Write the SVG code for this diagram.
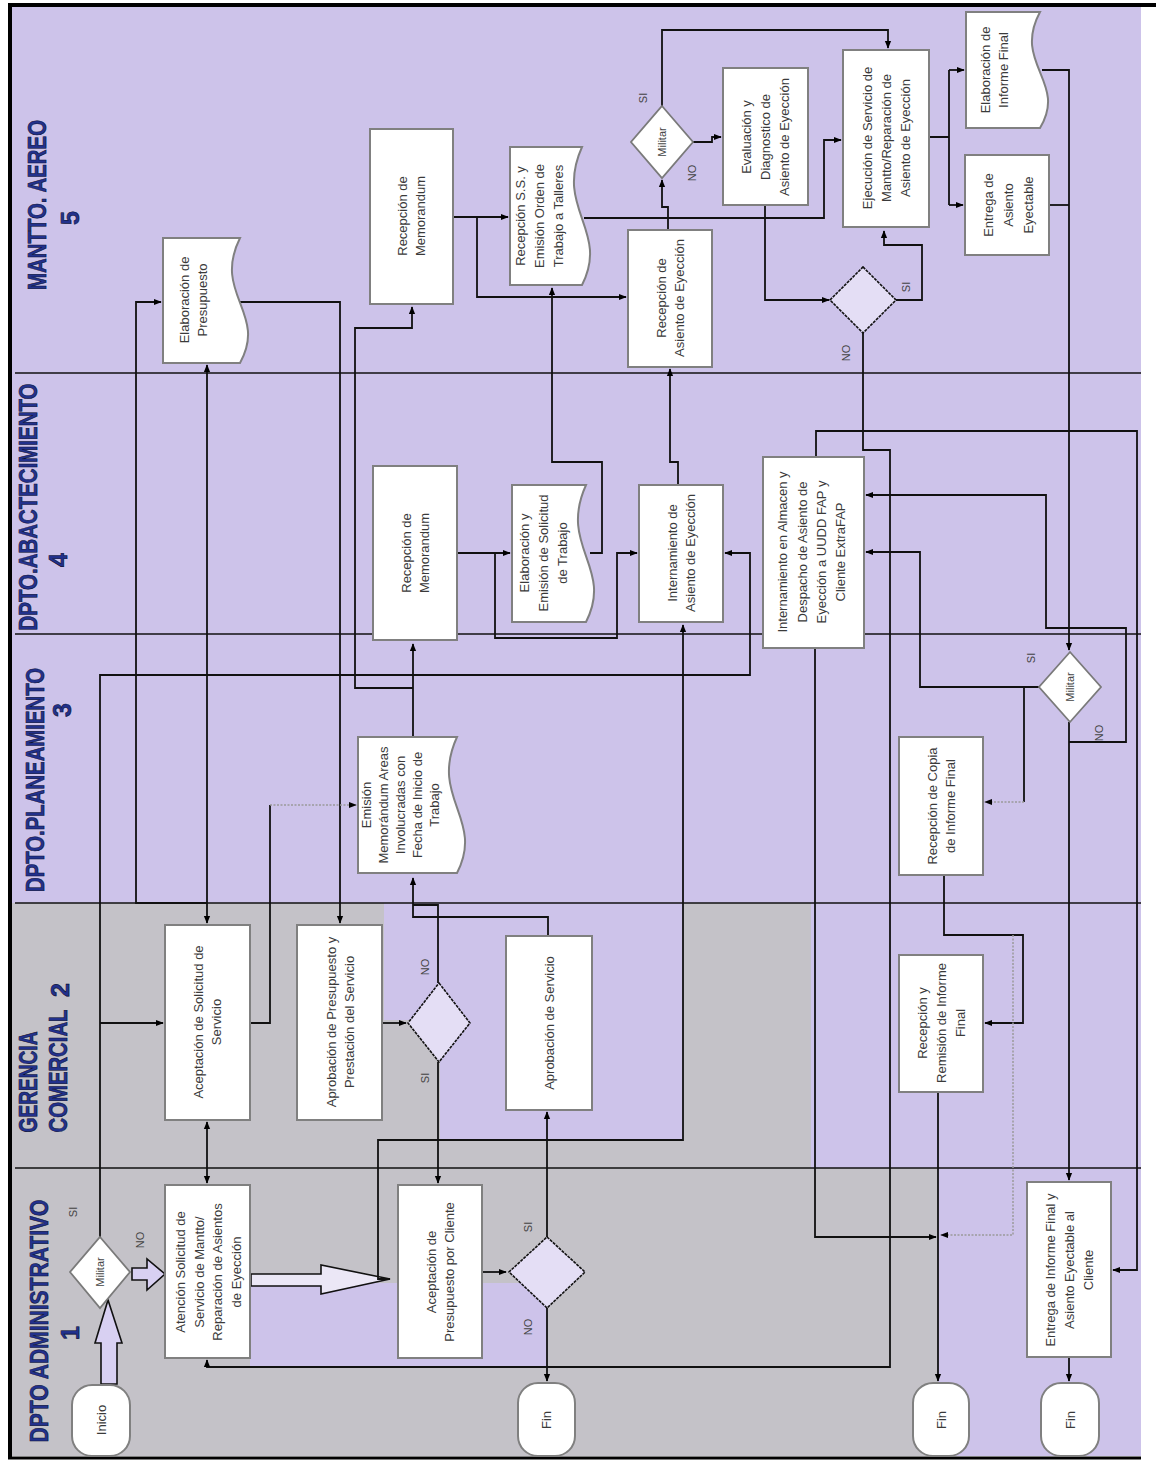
<svg xmlns="http://www.w3.org/2000/svg" width="1156" height="1461" viewBox="0 0 1156 1461">
<defs>
<style>
.bg{fill:#cdc3ea}
.gr{fill:#c4c2c8}
.box{fill:#ffffff;stroke:#808080;stroke-width:2}
.dia{fill:#ffffff;stroke:#7a7a7a;stroke-width:1.8}
.dia2{fill:#e4def5;stroke:#111;stroke-width:1.6;stroke-dasharray:3 1}
.t{font-family:"Liberation Sans",Arial,sans-serif;font-size:13px;fill:#3a3a3a;text-anchor:middle;dominant-baseline:central}
.s{font-family:"Liberation Sans",Arial,sans-serif;font-size:11px;fill:#444;text-anchor:middle;dominant-baseline:central}
.lb{font-family:"Liberation Sans Narrow","Liberation Sans",Arial,sans-serif;font-weight:bold;font-size:25px;fill:#22318c;stroke:#0b0f33;stroke-width:0.6;text-anchor:middle;dominant-baseline:central}
.c{fill:none;stroke:#111;stroke-width:1.8}
.g{fill:none;stroke:#9a9a9a;stroke-width:1.5;stroke-dasharray:2 1.5}
.ln{stroke:#111;stroke-width:1.5}
.blk{fill:#d8d0f2;stroke:#111;stroke-width:1.6}
</style>
<marker id="ah" viewBox="0 0 10 10" refX="9" refY="5" markerWidth="8" markerHeight="8" markerUnits="userSpaceOnUse" orient="auto-start-reverse"><path d="M0,1 L10,5 L0,9 Z" fill="#000"/></marker>
</defs>

<g id="background">
<rect class="bg" x="12" y="7" width="1129" height="1449"/>
<rect class="gr" x="12" y="903" width="799" height="265"/>
<polygon class="bg" points="384,903 683,903 683,1141 440,1141 440,1020 384,1020"/>
<rect class="gr" x="12" y="1168" width="926" height="288"/>
<rect class="bg" x="250" y="1283" width="297" height="84"/>
<line x1="8" y1="5" x2="1156" y2="5" stroke="#000" stroke-width="4"/>
<line x1="10" y1="5" x2="10" y2="1459" stroke="#000" stroke-width="4"/>
<line x1="8" y1="1458" x2="1141" y2="1458" stroke="#000" stroke-width="3"/>
</g>

<g id="lanes">
<line class="ln" x1="15" y1="373" x2="1141" y2="373"/>
<line class="ln" x1="15" y1="634" x2="1141" y2="634"/>
<line class="ln" x1="15" y1="903" x2="1141" y2="903"/>
<line class="ln" x1="15" y1="1168" x2="1141" y2="1168"/>
<text class="lb" transform="translate(37,205) rotate(-90)" textLength="170" lengthAdjust="spacingAndGlyphs">MANTTO. AEREO</text>
<text class="lb" transform="translate(70,218) rotate(-90)">5</text>
<text class="lb" transform="translate(28,507) rotate(-90)" textLength="247" lengthAdjust="spacingAndGlyphs">DPTO.ABACTECIMIENTO</text>
<text class="lb" transform="translate(58,560) rotate(-90)">4</text>
<text class="lb" transform="translate(35,780) rotate(-90)" textLength="224" lengthAdjust="spacingAndGlyphs">DPTO.PLANEAMIENTO</text>
<text class="lb" transform="translate(62,710) rotate(-90)">3</text>
<text class="lb" transform="translate(28,1082) rotate(-90)" textLength="101" lengthAdjust="spacingAndGlyphs">GERENCIA</text>
<text class="lb" transform="translate(58,1071) rotate(-90)" textLength="123" lengthAdjust="spacingAndGlyphs">COMERCIAL</text>
<text class="lb" transform="translate(60,990) rotate(-90)">2</text>
<text class="lb" transform="translate(39,1321) rotate(-90)" textLength="243" lengthAdjust="spacingAndGlyphs">DPTO ADMINISTRATIVO</text>
<text class="lb" transform="translate(70,1333) rotate(-90)">1</text>
</g>

<g id="connectors">
<polygon class="blk" points="101,1384 101,1343 95,1343 108,1300 122,1343 117,1343 117,1384"/>
<polygon class="blk" points="132,1268 147,1268 147,1259 165,1274 147,1290 147,1280 132,1280"/>
<polygon class="blk" style="fill:#ebe7f6" points="251,1274 321,1274 321,1265 390,1279 321,1294 321,1286 251,1286"/>
<path class="c" d="M100,1237 V675 H750 V553 H725" marker-end="url(#ah)"/>
<path class="c" d="M100,1023 H163" marker-end="url(#ah)"/>
<path class="c" d="M207,365 V923" marker-start="url(#ah)" marker-end="url(#ah)"/>
<path class="c" d="M207,1122 V1183" marker-start="url(#ah)" marker-end="url(#ah)"/>
<path class="c" d="M240,302 H340 V923" marker-end="url(#ah)"/>
<path class="c" d="M207,903 H136 V302 H161" marker-end="url(#ah)"/>
<path class="c" d="M250,1023 H270 V805"/>
<path class="g" d="M270,805 H356" marker-end="url(#ah)"/>
<path class="c" d="M413,737 V644" marker-end="url(#ah)"/>
<path class="c" d="M413,688 H355 V328 H412 V307" marker-end="url(#ah)"/>
<path class="c" d="M548,936 V917 H413 V878" marker-end="url(#ah)"/>
<path class="c" d="M438,983 V905 H413"/>
<path class="c" d="M453,217 H508" marker-end="url(#ah)"/>
<path class="c" d="M477,217 V297 H626" marker-end="url(#ah)"/>
<path class="c" d="M457,553 H510" marker-end="url(#ah)"/>
<path class="c" d="M495,553 V638 H617 V553 H637" marker-end="url(#ah)"/>
<path class="c" d="M590,553 H602 V462 H552 V288" marker-end="url(#ah)"/>
<path class="c" d="M678,485 V462 H670 V369" marker-end="url(#ah)"/>
<path class="c" d="M382,1023 H406" marker-end="url(#ah)"/>
<path class="c" d="M438,1062 V1183" marker-end="url(#ah)"/>
<path class="c" d="M482,1272 H506" marker-end="url(#ah)"/>
<path class="c" d="M547,1237 V1112" marker-end="url(#ah)"/>
<path class="c" d="M547,1308 V1381" marker-end="url(#ah)"/>
<path class="c" d="M863,333 V450 H890 V1367 H207 V1360" marker-end="url(#ah)"/>
<path class="c" d="M390,1279 H378 V1140 H683 V625" marker-end="url(#ah)"/>
<path class="c" d="M584,218 H824 V140 H841" marker-end="url(#ah)"/>
<path class="c" d="M765,205 V300 H829" marker-end="url(#ah)"/>
<path class="c" d="M668,230 V207 H662 V180" marker-end="url(#ah)"/>
<path class="c" d="M693,142 H712 V137 H721" marker-end="url(#ah)"/>
<path class="c" d="M662,107 V30 H888 V48" marker-end="url(#ah)"/>
<path class="c" d="M896,300 H922 V245 H884 V231" marker-end="url(#ah)"/>
<path class="c" d="M929,137 H949 M949,70 V205"/>
<path class="c" d="M949,70 H964" marker-end="url(#ah)"/>
<path class="c" d="M949,205 H963" marker-end="url(#ah)"/>
<path class="c" d="M1042,70 H1069 V650" marker-end="url(#ah)"/>
<path class="c" d="M1049,205 H1069"/>
<path class="c" d="M1039,687 H920 V552 H866" marker-end="url(#ah)"/>
<path class="c" d="M1024,687 V802"/>
<path class="g" d="M1024,802 H985" marker-end="url(#ah)"/>
<path class="c" d="M944,875 V935 H1023 V1023 H985" marker-end="url(#ah)"/>
<path class="c" d="M938,1092 V1381" marker-end="url(#ah)"/>
<path class="c" d="M1069,722 V1180" marker-end="url(#ah)"/>
<path class="c" d="M1069,742 H1126 V628 H1046 V495 H866" marker-end="url(#ah)"/>
<path class="c" d="M816,457 V431 H1137 V1270 H1113" marker-end="url(#ah)"/>
<path class="c" d="M815,648 V1237 H936" marker-end="url(#ah)"/>
<path class="g" d="M1013,935 V1235 H941" marker-end="url(#ah)"/>
<path class="c" d="M1069,1357 V1381" marker-end="url(#ah)"/>
</g>

<g id="n_elab_presup"><path class="box" d="M163,238 H240 C212,294 268,313 240,363 H163 Z"/><text class="t" transform="translate(193,300) rotate(-90)"><tspan x="0" y="-9">Elaboración de</tspan><tspan x="0" y="9">Presupuesto</tspan></text></g>
<g id="n_recep_mem5"><rect class="box" x="370" y="129" width="83" height="175"/><text class="t" transform="translate(411,216) rotate(-90)"><tspan x="0" y="-9">Recepción de</tspan><tspan x="0" y="9">Memorandum</tspan></text></g>
<g id="n_recep_ss"><path class="box" d="M510,147 H582 C554,209 610,230 582,285 H510 Z"/><text class="t" transform="translate(539,216) rotate(-90)"><tspan x="0" y="-19">Recepción S.S. y</tspan><tspan x="0" y="0">Emisión Orden de</tspan><tspan x="0" y="19">Trabajo a Talleres</tspan></text></g>
<g id="n_militar5"><polygon class="dia" points="662,106 693,142 662,178 631,142"/><text class="s" transform="translate(662,142) rotate(-90)">Militar</text><text class="s" transform="translate(643,98) rotate(-90)">SI</text><text class="s" transform="translate(692,173) rotate(-90)">NO</text></g>
<g id="n_eval"><rect class="box" x="723" y="68" width="85" height="137"/><text class="t" transform="translate(765,137) rotate(-90)"><tspan x="0" y="-19">Evaluación y</tspan><tspan x="0" y="0">Diagnostico de</tspan><tspan x="0" y="19">Asiento de Eyección</tspan></text></g>
<g id="n_recep_asiento"><rect class="box" x="628" y="230" width="84" height="137"/><text class="t" transform="translate(670,298) rotate(-90)"><tspan x="0" y="-9">Recepción de</tspan><tspan x="0" y="9">Asiento de Eyección</tspan></text></g>
<g id="n_ejec"><rect class="box" x="843" y="50" width="86" height="177"/><text class="t" transform="translate(886,138) rotate(-90)"><tspan x="0" y="-19">Ejecución de Servicio de</tspan><tspan x="0" y="0">Mantto/Reparación de</tspan><tspan x="0" y="19">Asiento de Eyección</tspan></text></g>
<g id="n_elab_inf"><path class="box" d="M966,12 H1040 C1012,64 1068,82 1040,128 H966 Z"/><text class="t" transform="translate(994,70) rotate(-90)"><tspan x="0" y="-9">Elaboración de</tspan><tspan x="0" y="9">Informe Final</tspan></text></g>
<g id="n_entrega_asiento"><rect class="box" x="965" y="155" width="84" height="100"/><text class="t" transform="translate(1008,205) rotate(-90)"><tspan x="0" y="-20">Entrega de</tspan><tspan x="0" y="0">Asiento</tspan><tspan x="0" y="20">Eyectable</tspan></text></g>
<g id="n_dec5"><polygon class="dia2" points="863,267 896,300 863,333 830,300"/><text class="s" transform="translate(906,287) rotate(-90)">SI</text><text class="s" transform="translate(846,353) rotate(-90)">NO</text></g>
<g id="n_recep_mem4"><rect class="box" x="373" y="466" width="84" height="174"/><text class="t" transform="translate(415,553) rotate(-90)"><tspan x="0" y="-9">Recepción de</tspan><tspan x="0" y="9">Memorandum</tspan></text></g>
<g id="n_elab_sol"><path class="box" d="M512,485 H586 C558,547 614,567 586,622 H512 Z"/><text class="t" transform="translate(543,553) rotate(-90)"><tspan x="0" y="-19">Elaboración y</tspan><tspan x="0" y="0">Emisión de Solicitud</tspan><tspan x="0" y="19">de Trabajo</tspan></text></g>
<g id="n_intern_asiento"><rect class="box" x="639" y="485" width="84" height="137"/><text class="t" transform="translate(681,553) rotate(-90)"><tspan x="0" y="-9">Internamiento de</tspan><tspan x="0" y="9">Asiento de Eyección</tspan></text></g>
<g id="n_almacen"><rect class="box" x="763" y="457" width="101" height="191"/><text class="t" transform="translate(811,552) rotate(-90)"><tspan x="0" y="-29">Internamiento en Almacen y</tspan><tspan x="0" y="-9.5">Despacho de Asiento de</tspan><tspan x="0" y="9.5">Eyección a UUDD FAP y</tspan><tspan x="0" y="29">Cliente ExtraFAP</tspan></text></g>
<g id="n_emision"><path class="box" d="M358,737 H457 C429,798 485,819 457,873 H358 Z"/><text class="t" transform="translate(400,805) rotate(-90)"><tspan x="0" y="-34">Emisión</tspan><tspan x="0" y="-17">Memorándum Areas</tspan><tspan x="0" y="0">Involucradas con</tspan><tspan x="0" y="17">Fecha de Inicio de</tspan><tspan x="0" y="34">Trabajo</tspan></text></g>
<g id="n_copia"><rect class="box" x="899" y="737" width="84" height="138"/><text class="t" transform="translate(941,806) rotate(-90)"><tspan x="0" y="-9">Recepción de Copia</tspan><tspan x="0" y="9">de Informe Final</tspan></text></g>
<g id="n_militar3"><polygon class="dia" points="1070,652 1101,687 1070,722 1039,687"/><text class="s" transform="translate(1070,687) rotate(-90)">Militar</text><text class="s" transform="translate(1031,658) rotate(-90)">SI</text><text class="s" transform="translate(1099,733) rotate(-90)">NO</text></g>
<g id="n_acept_sol"><rect class="box" x="165" y="925" width="85" height="195"/><text class="t" transform="translate(207,1022) rotate(-90)"><tspan x="0" y="-9">Aceptación de Solicitud de</tspan><tspan x="0" y="9">Servicio</tspan></text></g>
<g id="n_aprob_presup"><rect class="box" x="297" y="925" width="85" height="195"/><text class="t" transform="translate(340,1022) rotate(-90)"><tspan x="0" y="-9">Aprobación de Presupuesto y</tspan><tspan x="0" y="9">Prestación del Servicio</tspan></text></g>
<g id="n_dec2"><polygon class="dia2" points="439,983 470,1023 439,1062 408,1023"/><text class="s" transform="translate(425,967) rotate(-90)">NO</text><text class="s" transform="translate(425,1078) rotate(-90)">SI</text></g>
<g id="n_aprob_serv"><rect class="box" x="506" y="936" width="86" height="174"/><text class="t" transform="translate(549,1023) rotate(-90)">Aprobación de Servicio</text></g>
<g id="n_remision"><rect class="box" x="899" y="955" width="84" height="137"/><text class="t" transform="translate(941,1023) rotate(-90)"><tspan x="0" y="-19">Recepción y</tspan><tspan x="0" y="0">Remisión de Informe</tspan><tspan x="0" y="19">Final</tspan></text></g>
<g id="n_inicio"><rect class="box" x="72" y="1385" width="58" height="71" rx="20"/><text class="t" transform="translate(101,1420) rotate(-90)">Inicio</text></g>
<g id="n_militar1"><polygon class="dia" points="100,1237 130,1272 100,1308 70,1272"/><text class="s" transform="translate(100,1272) rotate(-90)">Militar</text><text class="s" transform="translate(73,1212) rotate(-90)">SI</text><text class="s" transform="translate(140,1240) rotate(-90)">NO</text></g>
<g id="n_atencion"><rect class="box" x="165" y="1185" width="85" height="173"/><text class="t" transform="translate(208,1272) rotate(-90)"><tspan x="0" y="-28">Atención Solicitud de</tspan><tspan x="0" y="-9.3">Servicio de Mantto/</tspan><tspan x="0" y="9.3">Reparación de Asientos</tspan><tspan x="0" y="28">de Eyección</tspan></text></g>
<g id="n_acept_presup"><rect class="box" x="398" y="1185" width="84" height="173"/><text class="t" transform="translate(440,1272) rotate(-90)"><tspan x="0" y="-9">Aceptación de</tspan><tspan x="0" y="9">Presupuesto por Cliente</tspan></text></g>
<g id="n_dec1"><polygon class="dia2" points="547,1237 585,1272 547,1308 509,1272"/><text class="s" transform="translate(528,1227) rotate(-90)">SI</text><text class="s" transform="translate(528,1327) rotate(-90)">NO</text></g>
<g id="n_fin1"><rect class="box" x="518" y="1383" width="57" height="73" rx="20"/><text class="t" transform="translate(546,1420) rotate(-90)">Fin</text></g>
<g id="n_fin2"><rect class="box" x="913" y="1383" width="56" height="73" rx="20"/><text class="t" transform="translate(941,1420) rotate(-90)">Fin</text></g>
<g id="n_entrega_final"><rect class="box" x="1027" y="1182" width="84" height="175"/><text class="t" transform="translate(1069,1270) rotate(-90)"><tspan x="0" y="-19">Entrega de Informe Final y</tspan><tspan x="0" y="0">Asiento Eyectable al</tspan><tspan x="0" y="19">Cliente</tspan></text></g>
<g id="n_fin3"><rect class="box" x="1041" y="1383" width="58" height="73" rx="20"/><text class="t" transform="translate(1070,1420) rotate(-90)">Fin</text></g>
</svg>
